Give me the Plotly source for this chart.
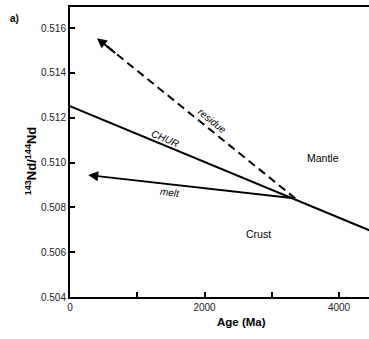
import plotly.graph_objects as go

# Data
chur_age = [0, 4450]
chur_nd = [0.51252, 0.50698]
node_age = 3350
node_nd = 0.50840
melt_tip = (270, 0.50944)
residue_tip = (400, 0.51555)
residue_age = [node_age, residue_tip[0]]
residue_nd = [node_nd, residue_tip[1]]
ytick_vals = [0.504, 0.506, 0.508, 0.510, 0.512, 0.514, 0.516]
ytick_text = ["0.504", "0.506", "0.508", "0.510", "0.512", "0.514", "0.516"]
xtick_vals = [0, 1000, 2000, 3000, 4000]
xtick_text = ["0", " ", "2000", " ", "4000"]

FONT = "Liberation Sans, Arial, sans-serif"

fig = go.Figure()
fig.add_trace(go.Scatter(x=chur_age, y=chur_nd, mode="lines",
                         line=dict(color="black", width=2), hoverinfo="skip"))
# residue dashed line (stop slightly short of tip so arrowhead shows)
fig.add_trace(go.Scatter(x=[residue_age[0], residue_age[0] + (residue_age[1]-residue_age[0])*0.95],
                         y=[residue_nd[0], residue_nd[0] + (residue_nd[1]-residue_nd[0])*0.95],
                         mode="lines", line=dict(color="black", width=2, dash="8px,5px"),
                         hoverinfo="skip"))

# melt arrow
fig.add_annotation(x=melt_tip[0], y=melt_tip[1], ax=node_age, ay=node_nd,
                   xref="x", yref="y", axref="x", ayref="y", text="",
                   showarrow=True, arrowhead=2, arrowsize=1, arrowwidth=2,
                   arrowcolor="black", standoff=0, startstandoff=0)
# residue arrowhead
fig.add_annotation(x=residue_tip[0], y=residue_tip[1],
                   ax=residue_age[0] - (residue_age[0]-residue_tip[0])*0.9,
                   ay=residue_nd[0] - (residue_nd[0]-residue_tip[1])*0.9,
                   xref="x", yref="y", axref="x", ayref="y", text="",
                   showarrow=True, arrowhead=2, arrowsize=1, arrowwidth=2,
                   arrowcolor="black", standoff=0)

def lab(x, y, t, ang=0, italic=False, size=10.5):
    fig.add_annotation(x=x, y=y, xref="x", yref="y", text=t, showarrow=False,
                       textangle=ang,
                       font=dict(family=FONT, size=size, color="black",
                                 style="italic" if italic else "normal"))

lab(1413, 0.51109, "CHUR", 22.5, True, 10)
lab(2112, 0.51189, "residue", 39, True, 10)
lab(1487, 0.50868, "melt", 6.5, True, 10)
lab(3762, 0.51020, "Mantle")
lab(2796, 0.50681, "Crust")

# axis titles and panel label
fig.add_annotation(xref="paper", yref="paper", x=-0.165, y=0.47,
                   text="<b><sup>143</sup>Nd/<sup>144</sup>Nd</b>", textangle=-90,
                   showarrow=False, font=dict(family=FONT, size=13, color="black"))
fig.add_annotation(xref="paper", yref="paper", x=0.572, y=-0.114,
                   text="<b>Age (Ma)</b>", showarrow=False,
                   font=dict(family=FONT, size=11.5, color="black"))
fig.add_annotation(xref="paper", yref="paper", x=-0.163, y=0.985, xanchor="right",
                   text="<b>a)</b>", showarrow=False,
                   font=dict(family=FONT, size=10, color="black"))

fig.update_xaxes(range=[0, 4446], tickvals=xtick_vals, ticktext=xtick_text,
                 ticks="inside", ticklen=5, tickwidth=1.5, tickcolor="black",
                 showline=True, linecolor="black", linewidth=2, mirror=True,
                 showgrid=False, zeroline=False,
                 tickfont=dict(family=FONT, size=10, color="#222"))
fig.update_yaxes(range=[0.504, 0.51694], tickvals=ytick_vals, ticktext=ytick_text,
                 ticks="inside", ticklen=5, tickwidth=1.5, tickcolor="black",
                 showline=True, linecolor="black", linewidth=2,
                 showgrid=False, zeroline=False,
                 tickfont=dict(family=FONT, size=10, color="#222"))

fig.update_layout(width=369, height=339, showlegend=False,
                  margin=dict(l=70, r=0, t=7, b=42, autoexpand=False),
                  plot_bgcolor="white", paper_bgcolor="white")

fig.write_html("out.html", config={"displayModeBar": False},
               post_script="document.body.style.margin='0px';")
